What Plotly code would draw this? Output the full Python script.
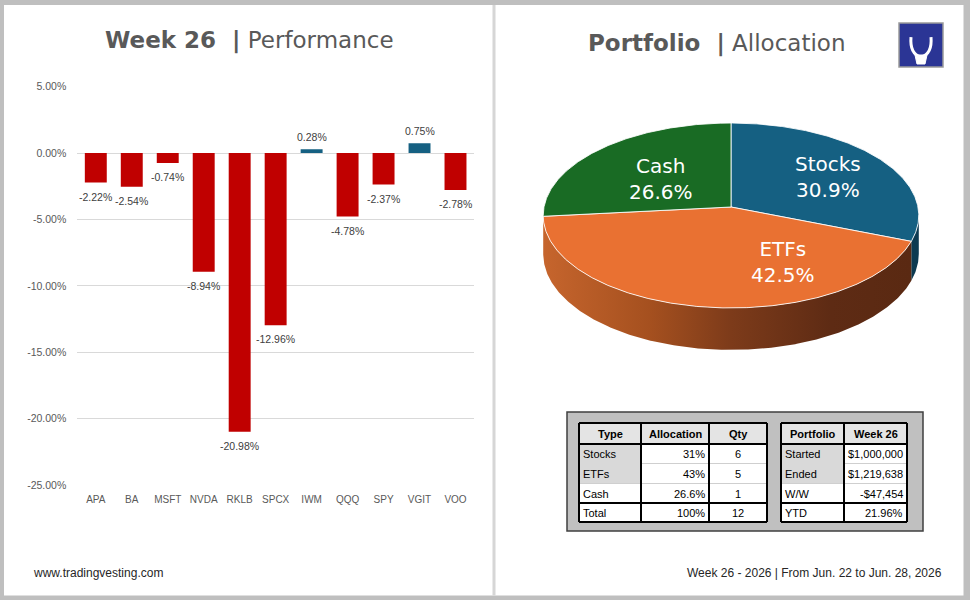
import math
import plotly.graph_objects as go

# ---------------- data ----------------
tickers = ["APA", "BA", "MSFT", "NVDA", "RKLB", "SPCX", "IWM", "QQQ", "SPY", "VGIT", "VOO"]
weekly_returns = [-2.22, -2.54, -0.74, -8.94, -20.98, -12.96, 0.28, -4.78, -2.37, 0.75, -2.78]
y_ticks = [5, 0, -5, -10, -15, -20, -25]

alloc_types = ["Stocks", "ETFs", "Cash"]
alloc_shares = [30.9, 42.5, 26.6]

table_headers = ["Type", "Allocation", "Qty"]
table_type = ["Stocks", "ETFs", "Cash", "Total"]
table_alloc = ["31%", "43%", "26.6%", "100%"]
table_qty = ["6", "5", "1", "12"]

summary_headers = ["Portfolio", "Week 26"]
summary_labels = ["Started", "Ended", "W/W", "YTD"]
summary_values = ["$1,000,000", "$1,219,638", "-$47,454", "21.96%"]

left_title = ("Week 26", "Performance")
right_title = ("Portfolio", "Allocation")
footer_left = "www.tradingvesting.com"
footer_right = "Week 26 - 2026 | From Jun. 22 to Jun. 28, 2026"

# ---------------- style / layout ----------------
W, H = 970, 600
def px(x):
    return x / W
def py(y):
    return 1 - y / H

POS_COLOR, NEG_COLOR = "#156082", "#C00000"
SLICE_COLORS = {"Stocks": "#156082", "ETFs": "#E97132", "Cash": "#196B24"}
SIDE_COLORS = {"Stocks": "#0c3a51", "Cash": "#11501a"}
ETF_SIDE_SCALE = [[0, "#c6652d"], [0.29, "#a5501f"], [0.51, "#7d3b1a"], [0.78, "#5e2b14"], [1, "#5a2912"]]
ARIAL = "Liberation Sans, Arial, sans-serif"
DEJAVU = "DejaVu Sans, Verdana, sans-serif"
NB = "\u00a0"

# pie projection (pixel space on x2/y2)
PX, PY = 731.0, 207.0
RA, RB = 187.0, 91.7
K = 0.0918
DEPTH = 38.1
# label placement: (angle shift in degrees, relative radius)
LABEL_PLACE = {"Stocks": (2.0, 0.63), "ETFs": (-32.7, 0.63), "Cash": (-3.0, 0.50)}

fig = go.Figure()
annotations = []

# ---------------- bar chart ----------------
fig.add_trace(go.Bar(
    x=tickers, y=weekly_returns,
    marker=dict(color=[POS_COLOR if v >= 0 else NEG_COLOR for v in weekly_returns], line=dict(width=0)),
    width=0.61, hoverinfo="skip", xaxis="x", yaxis="y", showlegend=False,
))
for t, v in zip(tickers, weekly_returns):
    annotations.append(dict(
        x=t, y=v, xref="x", yref="y", text=f"{v:.2f}%", showarrow=False,
        xanchor="center", yanchor="middle", yshift=12 if v >= 0 else -14,
        font=dict(family=ARIAL, size=10.5, color="#404040")))

# ---------------- 3D pie ----------------
def proj(theta, r=1.0, drop=0.0):
    t = math.radians(theta)
    u, v = r * math.sin(t), -r * math.cos(t)
    w = 1 - K * v
    return PX + RA * u / w, PY + (RB * v + drop) / w

def arc(a, b, drop=0.0, step=0.5):
    n = max(2, int(abs(b - a) / step) + 1)
    return [proj(a + (b - a) * i / (n - 1), 1.0, drop) for i in range(n)]

total = sum(alloc_shares)
bounds = []
acc = 0.0
for s in alloc_shares:
    a = acc / total * 360
    acc += s
    b = acc / total * 360
    bounds.append((a, b))

sil = math.degrees(math.acos(-K))
vis_lo, vis_hi = sil, 360 - sil

# sides
for name, (a, b) in zip(alloc_types, bounds):
    lo, hi = max(a, vis_lo), min(b, vis_hi)
    if hi <= lo:
        continue
    top = arc(lo, hi)
    bot = arc(hi, lo, drop=DEPTH)
    pts = top + bot + [top[0]]
    kw = dict(fillcolor=SIDE_COLORS.get(name, "#555"))
    if name == "ETFs":
        kw = dict(fillgradient=dict(type="horizontal", colorscale=ETF_SIDE_SCALE))
    fig.add_trace(go.Scatter(
        x=[p[0] for p in pts], y=[p[1] for p in pts], mode="lines", fill="toself",
        line=dict(width=0), hoverinfo="skip", showlegend=False, xaxis="x2", yaxis="y2", **kw))

# top faces
for name, (a, b) in zip(alloc_types, bounds):
    pts = [proj(0, 0)] + arc(a, b) + [proj(0, 0)]
    fig.add_trace(go.Scatter(
        x=[p[0] for p in pts], y=[p[1] for p in pts], mode="lines", fill="toself",
        fillcolor=SLICE_COLORS[name], line=dict(color="rgba(255,255,255,0.85)", width=1),
        hoverinfo="skip", showlegend=False, xaxis="x2", yaxis="y2"))

for name, share, (a, b) in zip(alloc_types, alloc_shares, bounds):
    shift, rr = LABEL_PLACE[name]
    lx, ly = proj((a + b) / 2 + shift, rr)
    annotations.append(dict(
        x=lx, y=ly, xref="x2", yref="y2", xanchor="center", yanchor="middle",
        text=f"{name}<br>{share / total * 100:.1f}%",
        showarrow=False, font=dict(family=DEJAVU, size=20, color="white"), align="center"))

# ---------------- shapes: frame, divider, logo ----------------
shapes = []
shapes.append(dict(type="rect", xref="paper", yref="paper", x0=px(4), x1=px(963.5), y0=py(595.5), y1=py(5),
                   fillcolor="white", line=dict(width=0), layer="below"))
shapes.append(dict(type="line", xref="paper", yref="paper", x0=px(494), x1=px(494), y0=py(595.5), y1=py(5),
                   line=dict(color="#d6d6d6", width=3), layer="below"))
# logo
shapes.append(dict(type="rect", xref="paper", yref="paper", x0=px(899), x1=px(943), y0=py(67), y1=py(23),
                   fillcolor="#2b3595", line=dict(color="#9a9a9a", width=1.5)))
def ppath(cmds):
    out = []
    for c in cmds:
        if isinstance(c, str):
            out.append(c)
        else:
            out.append(f"{px(c[0]):.5f},{py(c[1]):.5f}")
    return " ".join(out)
shapes.append(dict(type="path", xref="paper", yref="paper",
                   path=ppath(["M", (911, 37), "C", (910, 49), (914, 55), (921, 57),
                               "C", (928, 55), (932, 49), (931, 37)]),
                   line=dict(color="white", width=3)))
shapes.append(dict(type="path", xref="paper", yref="paper",
                   path=ppath(["M", (915, 55), "L", (927, 55), "L", (925, 64), "L", (917, 64), "Z"]),
                   fillcolor="white", line=dict(color="white", width=1)))

# ---------------- tables ----------------
BOX = (567, 412, 923, 531)
shapes.append(dict(type="rect", xref="paper", yref="paper", x0=px(BOX[0]), x1=px(BOX[2]), y0=py(BOX[3]), y1=py(BOX[1]),
                   fillcolor="#c0c0c0", line=dict(color="#3f3f3f", width=1.5)))
ROWS = [423, 444, 463.5, 483.5, 503, 522]
LCOLS = [579, 641, 709, 767]
RCOLS = [781, 844, 907]
HEAD_FILL, GRAY_FILL = "#e4e4e4", "#d9d9d9"

def cell_rect(x0, x1, y0, y1, color):
    shapes.append(dict(type="rect", xref="paper", yref="paper", x0=px(x0), x1=px(x1), y0=py(y1), y1=py(y0),
                       fillcolor=color, line=dict(width=0)))

def hline(x0, x1, y, color, width):
    shapes.append(dict(type="line", xref="paper", yref="paper", x0=px(x0), x1=px(x1), y0=py(y), y1=py(y),
                       line=dict(color=color, width=width)))

def vline(x, y0, y1, color, width):
    shapes.append(dict(type="line", xref="paper", yref="paper", x0=px(x), x1=px(x), y0=py(y0), y1=py(y1),
                       line=dict(color=color, width=width)))

def txt(x, y, s, anchor="center", bold=False):
    annotations.append(dict(x=px(x), y=py(y), xref="paper", yref="paper", xanchor=anchor, yanchor="middle",
                            text=f"<b>{s}</b>" if bold else s, showarrow=False,
                            font=dict(family=ARIAL, size=11, color="black")))

for cols in (LCOLS, RCOLS):
    cell_rect(cols[0], cols[-1], ROWS[0], ROWS[1], HEAD_FILL)
    cell_rect(cols[0], cols[-1], ROWS[1], ROWS[-1], "white")
    cell_rect(cols[0], cols[1], ROWS[1], ROWS[3], GRAY_FILL)
    for r in (2, 3):
        hline(cols[1], cols[-1], ROWS[r], "#cfcfcf", 1)
    hline(cols[0], cols[1], ROWS[3], "#cfcfcf", 1)
    hline(cols[0], cols[-1], ROWS[1], "black", 2)
    hline(cols[0], cols[-1], ROWS[4], "black", 2)
    for c in cols:
        vline(c, ROWS[0], ROWS[-1], "black", 2)
    hline(cols[0], cols[-1], ROWS[0], "black", 2)
    hline(cols[0], cols[-1], ROWS[-1], "black", 2)

def row_mid(i):
    return (ROWS[i] + ROWS[i + 1]) / 2 + 0.5

for j, h in enumerate(table_headers):
    txt((LCOLS[j] + LCOLS[j + 1]) / 2, row_mid(0), h, bold=True)
for i in range(len(table_type)):
    txt(LCOLS[0] + 2, row_mid(i + 1), table_type[i], anchor="left")
    txt(LCOLS[2] - 2, row_mid(i + 1), table_alloc[i], anchor="right")
    txt((LCOLS[2] + LCOLS[3]) / 2, row_mid(i + 1), table_qty[i])
for j, h in enumerate(summary_headers):
    txt((RCOLS[j] + RCOLS[j + 1]) / 2, row_mid(0), h, bold=True)
for i in range(len(summary_labels)):
    txt(RCOLS[0] + 2, row_mid(i + 1), summary_labels[i], anchor="left")
    txt(RCOLS[2] - 2, row_mid(i + 1), summary_values[i], anchor="right")

# ---------------- titles & footer ----------------
annotations.append(dict(x=px(250), y=py(40.5), xref="paper", yref="paper", xanchor="center", yanchor="middle",
                        showarrow=False, text=f"<b>{left_title[0]}{NB}{NB}|</b>{NB}{left_title[1]}",
                        font=dict(family=DEJAVU, size=23, color="#595959")))
annotations.append(dict(x=px(717), y=py(43.5), xref="paper", yref="paper", xanchor="center", yanchor="middle",
                        showarrow=False, text=f"<b>{right_title[0]}{NB}{NB}|</b>{NB}{right_title[1]}",
                        font=dict(family=DEJAVU, size=23, color="#595959")))
annotations.append(dict(x=px(31), y=py(573), xref="paper", yref="paper", xanchor="left", yanchor="middle",
                        showarrow=False, text=footer_left, font=dict(family=ARIAL, size=12, color="#262626")))
annotations.append(dict(x=px(944), y=py(573), xref="paper", yref="paper", xanchor="right", yanchor="middle",
                        showarrow=False, text=footer_right, font=dict(family=ARIAL, size=12, color="#262626")))

fig.update_layout(
    width=W, height=H, margin=dict(l=0, r=0, t=0, b=0, pad=0, autoexpand=False),
    paper_bgcolor="#bfbfbf", plot_bgcolor="rgba(0,0,0,0)",
    showlegend=False, bargap=0.39,
    xaxis=dict(domain=[px(77.3), px(474)], anchor="y", showgrid=False, zeroline=False, showline=False,
               automargin=False, ticks="", ticklabelstandoff=7,
               tickfont=dict(family=ARIAL, size=10, color="#595959"), fixedrange=True),
    yaxis=dict(domain=[py(485), py(86.7)], anchor="x", range=[-25, 5], tickvals=y_ticks,
               ticktext=[f"{v:.2f}%" for v in y_ticks], showgrid=True, gridcolor="#d9d9d9", gridwidth=1,
               zeroline=False, showline=False, ticks="", ticklabelstandoff=10, automargin=False,
               tickfont=dict(family=ARIAL, size=10.5, color="#595959"), fixedrange=True),
    xaxis2=dict(domain=[px(500), px(960)], anchor="y2", range=[500, 960], visible=False, fixedrange=True,
                automargin=False),
    yaxis2=dict(domain=[py(400), py(90)], anchor="x2", range=[400, 90], visible=False, fixedrange=True,
                automargin=False),
    shapes=shapes, annotations=annotations,
)

fig.write_html("out.html")
